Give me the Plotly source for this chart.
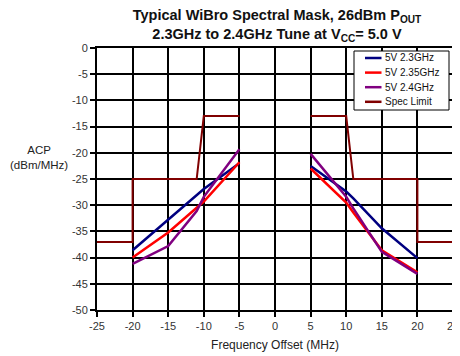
import plotly.graph_objects as go

# Frequency offsets (MHz); None splits lower / upper sidebands
freq = [-20, -15, -11, -10, -5, None, 5, 10, 11, 15, 20]
acp_23 = [-38.6, -32.8, -28.0, -26.9, -22.0, None, -22.5, -27.4, -28.7, -34.4, -40.1]
acp_235 = [-40.0, -35.2, -30.5, -29.3, -21.8, None, -23.0, -29.5, -31.4, -38.6, -42.8]
acp_24 = [-41.2, -37.8, -31.1, -28.4, -19.3, None, -20.2, -28.4, -30.6, -38.9, -43.1]

spec_freq = [-25, -20, -20, -11, -10, -5, None, 5, 10, 11, 20, 20, 25]
spec_lim = [-37, -37, -25, -25, -13, -13, None, -13, -13, -25, -25, -37, -37]

series_names = ["5V 2.3GHz", "5V 2.35GHz", "5V 2.4GHz", "Spec Limit"]
series_colors = ["#000080", "#FF0000", "#800080", "#800000"]

x_ticks = list(range(-25, 30, 5))
y_ticks = list(range(-50, 5, 5))

FONT = "Liberation Sans, Arial, sans-serif"

# page body has an 8px default margin: size the figure to fit the window
W, H = 452, 348
L, R, T, B = 89, 7, 40, 46
PW, PH = W - L - R, H - T - B

fig = go.Figure()
for name, y, c in zip(series_names[:3], [acp_23, acp_235, acp_24], series_colors[:3]):
    fig.add_trace(go.Scatter(x=freq, y=y, mode="lines", name=name,
                             line=dict(color=c, width=2.5)))
fig.add_trace(go.Scatter(x=spec_freq, y=spec_lim, mode="lines", name=series_names[3],
                         line=dict(color=series_colors[3], width=2)))

# custom compact legend (paper coordinates)
def px_x(wx):
    return (wx - 8 - L) / PW

def px_y(wy):
    return 1 - (wy - 8 - T) / PH

shapes = [dict(type="rect", xref="paper", yref="paper",
               x0=px_x(354), x1=px_x(449), y0=px_y(110), y1=px_y(51),
               line=dict(color="black", width=1), fillcolor="white", layer="above")]
annotations = []
for i, (name, c) in enumerate(zip(series_names, series_colors)):
    yy = px_y(58 + 14.6 * i)
    shapes.append(dict(type="line", xref="paper", yref="paper",
                       x0=px_x(365), x1=px_x(381.5), y0=yy, y1=yy,
                       line=dict(color=c, width=2.5), layer="above"))
    annotations.append(dict(text=name, xref="paper", yref="paper", x=px_x(382.5), y=yy,
                            xanchor="left", yanchor="middle", showarrow=False,
                            font=dict(family=FONT, size=10, color="#111111")))

annotations.append(dict(
    text="ACP<br>(dBm/MHz)", xref="paper", yref="paper", x=px_x(39), y=px_y(157),
    xanchor="center", yanchor="middle", showarrow=False, align="center",
    font=dict(family=FONT, size=11.5, color="#222222"),
))

fig.update_layout(
    width=W, height=H,
    margin=dict(l=L, r=R, t=T, b=B, autoexpand=False),
    paper_bgcolor="white", plot_bgcolor="white",
    font=dict(family=FONT, size=11, color="#333333"),
    title=dict(
        text="<b>Typical WiBro Spectral Mask, 26dBm P<sub>OUT</sub><br>2.3GHz to 2.4GHz Tune at V<sub>CC</sub>= 5.0 V</b>",
        x=(277 - 8) / W, xanchor="center", y=1 - 12 / H, yanchor="top",
        font=dict(family=FONT, size=14.5, color="#111111"),
    ),
    showlegend=False,
    shapes=shapes,
    annotations=annotations,
    xaxis=dict(
        range=[-25, 25], tickvals=x_ticks, ticktext=[str(v) for v in x_ticks],
        showgrid=True, gridcolor="black", gridwidth=2,
        zeroline=False, showline=True, linecolor="black", linewidth=2, mirror=True,
        ticks="outside", ticklen=5, tickwidth=2, tickcolor="black",
        title=dict(text="Frequency Offset (MHz)", font=dict(family=FONT, size=12, color="#222222"), standoff=9),
    ),
    yaxis=dict(
        range=[-50, 0], tickvals=y_ticks, ticktext=[str(v) for v in y_ticks],
        showgrid=True, gridcolor="black", gridwidth=2,
        zeroline=False, showline=True, linecolor="black", linewidth=2, mirror=True,
        ticks="outside", ticklen=5, tickwidth=2, tickcolor="black",
    ),
)

fig.write_html("out.html")
